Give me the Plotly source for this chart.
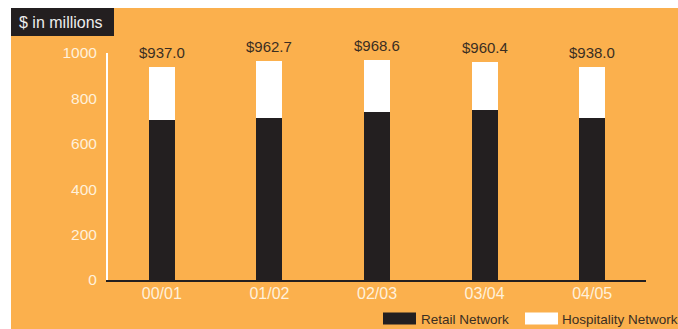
import plotly.graph_objects as go

# Revenue by network, $ in millions
years = ["00/01", "01/02", "02/03", "03/04", "04/05"]
totals = [937.0, 962.7, 968.6, 960.4, 938.0]
retail = [705.0, 714.0, 742.0, 749.0, 714.0]
hospitality = [round(t - r, 1) for t, r in zip(totals, retail)]
series_names = ["Retail Network", "Hospitality Network"]
y_ticks = [0, 200, 400, 600, 800, 1000]

ORANGE = "#FBB04D"
DARK = "#231F20"
PALE = "#FFF1DB"
TEXT = "#3A2E22"

W, H = 678, 329
L, R, T, B = 108, 32, 53, 48.5
PW, PH = W - L - R, H - T - B


def px(x):
    return (x - L) / PW


def py(y):
    return (H - B - y) / PH


fig = go.Figure()
fig.add_bar(x=years, y=retail, name=series_names[0], marker=dict(color=DARK, line_width=0))
fig.add_bar(x=years, y=hospitality, name=series_names[1], marker=dict(color="white", line_width=0))

shapes = [
    # orange panel
    dict(type="rect", xref="paper", yref="paper", x0=px(11), x1=px(W + 5), y0=py(8), y1=py(H + 5),
         fillcolor=ORANGE, line_width=0, layer="below"),
    # title box
    dict(type="rect", xref="paper", yref="paper", x0=px(11), x1=px(114), y0=py(8), y1=py(36),
         fillcolor=DARK, line_width=0, layer="below"),
    # legend swatches
    dict(type="rect", xref="paper", yref="paper", x0=px(383), x1=px(416), y0=py(313), y1=py(325),
         fillcolor=DARK, line_width=0),
    dict(type="rect", xref="paper", yref="paper", x0=px(525), x1=px(558), y0=py(313), y1=py(325),
         fillcolor="white", line_width=0),
]

legend_font = dict(family="Liberation Sans", size=13.5, color=TEXT)
annotations = [
    dict(text="$ in millions", xref="paper", yref="paper", x=px(17), y=py(22), xanchor="left",
         yanchor="middle", showarrow=False, font=dict(family="Liberation Sans", size=16, color="#EDEDED")),
    dict(text=series_names[0], xref="paper", yref="paper", x=px(419), y=py(320), xanchor="left",
         yanchor="middle", showarrow=False, font=legend_font),
    dict(text=series_names[1], xref="paper", yref="paper", x=px(560), y=py(320), xanchor="left",
         yanchor="middle", showarrow=False, font=legend_font),
]
for yr, tot in zip(years, totals):
    annotations.append(dict(text=f"${tot:.1f}", x=yr, y=tot, xref="x", yref="y", yanchor="bottom",
                            yshift=4, showarrow=False,
                            font=dict(family="Liberation Sans", size=15, color=TEXT)))

fig.update_layout(
    width=W, height=H,
    margin=dict(l=L, r=R, t=T, b=B, pad=0),
    paper_bgcolor="white",
    plot_bgcolor="rgba(0,0,0,0)",
    barmode="stack",
    bargap=0.76,
    showlegend=False,
    shapes=shapes,
    annotations=annotations,
    xaxis=dict(showgrid=False, zeroline=False, showline=True, linecolor=DARK, linewidth=2,
               ticks="", ticklabelstandoff=-2,
               tickfont=dict(family="Liberation Sans", size=16, color=PALE)),
    yaxis=dict(range=[0, 1000], tickvals=y_ticks, showgrid=False, zeroline=False, showline=True,
               linecolor="white", linewidth=2, ticks="", ticklabelstandoff=6,
               tickfont=dict(family="Liberation Sans", size=15.5, color=PALE)),
)

fig.write_html("out.html")
